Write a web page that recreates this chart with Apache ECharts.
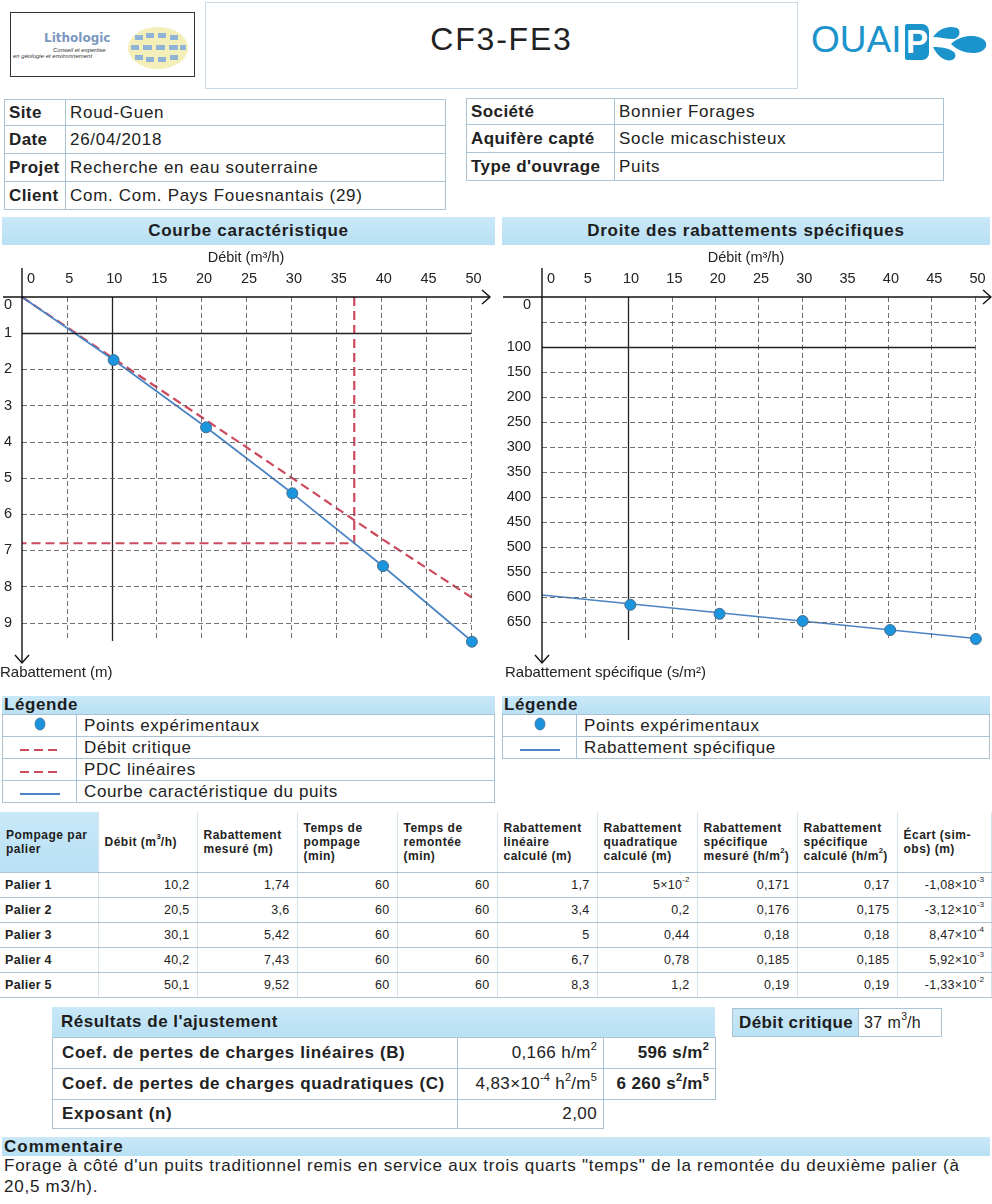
<!DOCTYPE html>
<html><head><meta charset="utf-8">
<script src="https://cdn.jsdelivr.net/npm/echarts@6/dist/echarts.min.js"></script>
<style>
html,body{margin:0;padding:0}
body{width:992px;height:1204px;position:relative;background:#fff;font-family:"Liberation Sans",Arial,sans-serif;color:#222;overflow:hidden}
.abs{position:absolute}
table{border-collapse:collapse;table-layout:fixed}
td{padding:0;overflow:hidden;white-space:nowrap}
.bar{background:linear-gradient(#c9e8f8,#b9e0f4);font-weight:bold;color:#1d1d1d}
.info td{border:1px solid #a9c3d5;font-size:17px;letter-spacing:0.7px;padding-left:4px}
.info td.k{font-weight:bold;letter-spacing:0.4px}
.leg td{border:1px solid #a9c3d5;font-size:17px;letter-spacing:0.6px;height:21px}
.leg td.s{text-align:center}
.leg td.t{padding-left:7px}
.data td{border-bottom:1px solid #a9c3d5;border-right:1px solid #d5e3ec;font-size:12.5px;letter-spacing:0.3px;height:24px;text-align:right;padding-right:7px}
.data tr.h td{font-weight:bold;font-size:12px;letter-spacing:0.5px;text-align:left;padding-left:6px;padding-right:0;line-height:14px;height:60px;vertical-align:middle}
.data td.p{font-weight:bold;text-align:left;padding-left:5px}
.res td{border:1px solid #a9c3d5;font-size:17px;letter-spacing:0.4px}
.res td.k{font-weight:bold;padding-left:9px;letter-spacing:0.6px}
.res td.v{text-align:right;padding-right:6px}
.res td.b{text-align:right;padding-right:6px;font-weight:bold}
sup{font-size:65%;vertical-align:top;position:relative;top:-2px;line-height:1;letter-spacing:0}
</style></head>
<body>

<!-- header -->
<div class="abs" style="left:10px;top:12px;width:183px;height:63px;border:1.5px solid #333">
  <div class="abs" style="left:33px;top:18px;font:bold 12px 'DejaVu Sans',sans-serif;color:#7b98bf">Lithologic</div>
  <div class="abs" style="left:42px;top:34px;font:italic 6px 'Liberation Sans';color:#333">Conseil et expertise</div>
  <div class="abs" style="left:2px;top:40px;font:italic 6px 'Liberation Sans';color:#333">en géologie et environnement</div>
  <svg class="abs" style="left:116px;top:13px" width="62" height="44" viewBox="0 0 62 44">
    <ellipse cx="31" cy="22" rx="30" ry="21" fill="#f4eeb8"/>
    <g fill="#8fb4d8">
      <rect x="8" y="9" width="8" height="5"/><rect x="19" y="7" width="8" height="5"/><rect x="31" y="7" width="8" height="5"/><rect x="43" y="9" width="8" height="5"/>
      <rect x="4" y="19" width="8" height="5"/><rect x="16" y="19" width="9" height="5"/><rect x="29" y="19" width="9" height="5"/><rect x="42" y="19" width="9" height="5"/><rect x="53" y="19" width="6" height="5"/>
      <rect x="8" y="29" width="8" height="5"/><rect x="19" y="31" width="8" height="5"/><rect x="31" y="31" width="8" height="5"/><rect x="43" y="29" width="8" height="5"/>
    </g>
  </svg>
</div>
<div class="abs" style="left:205px;top:2px;width:591px;height:85px;border:1px solid #c9dae6"></div>
<div class="abs" style="left:205px;top:21px;width:593px;text-align:center;font-size:32px;letter-spacing:1.8px;color:#222">CF3-FE3</div>
<div class="abs" style="left:811px;top:19px;font-size:37px;color:#1b94cc">OUAI</div>
<div class="abs" style="left:905px;top:24px;width:24px;height:36px;background:#1b94cc;border-radius:2px 7px 7px 2px;color:#fff;font:bold 33px 'Liberation Sans';line-height:36px;text-align:center">P</div>
<svg class="abs" style="left:929px;top:20px" width="60" height="44" viewBox="0 0 60 44">
  <g fill="#1b94cc">
    <path d="M4 17 C10 8 20 5 28 8 C33 11 30 19 24 19 C17 19 10 17 4 17 Z"/>
    <path d="M22 24 C32 14 50 14 56 21 C60 27 54 33 44 33 C36 33 28 30 22 24 Z"/>
    <path d="M4 27 C12 27 20 28 25 32 C29 37 24 42 17 40 C11 38 7 33 4 27 Z"/>
  </g>
</svg>

<!-- information tables -->
<table class="info abs" style="left:4px;top:99px;width:442px">
  <colgroup><col style="width:61px"><col></colgroup>
  <tr style="height:26px"><td class="k">Site</td><td>Roud-Guen</td></tr>
  <tr style="height:28px"><td class="k">Date</td><td>26/04/2018</td></tr>
  <tr style="height:28px"><td class="k">Projet</td><td>Recherche en eau souterraine</td></tr>
  <tr style="height:28px"><td class="k">Client</td><td>Com. Com. Pays Fouesnantais (29)</td></tr>
</table>
<table class="info abs" style="left:466px;top:98px;width:478px">
  <colgroup><col style="width:148px"><col></colgroup>
  <tr style="height:26px"><td class="k">Société</td><td>Bonnier Forages</td></tr>
  <tr style="height:28px"><td class="k">Aquifère capté</td><td>Socle micaschisteux</td></tr>
  <tr style="height:28px"><td class="k">Type d'ouvrage</td><td>Puits</td></tr>
</table>

<!-- chart section bars -->
<div class="abs bar" style="left:2px;top:217px;width:493px;height:28px;line-height:28px;text-align:center;font-size:17px;letter-spacing:0.7px">Courbe caractéristique</div>
<div class="abs bar" style="left:502px;top:217px;width:488px;height:28px;line-height:28px;text-align:center;font-size:17px;letter-spacing:0.7px">Droite des rabattements spécifiques</div>

<div id="c1" class="abs" style="left:0;top:247px;width:495px;height:443px"></div>
<div id="c2" class="abs" style="left:495px;top:247px;width:497px;height:443px"></div>

<!-- legends -->
<div class="abs bar" style="left:2px;top:696px;width:491px;height:18px;line-height:18px;font-size:17px;letter-spacing:0.6px;padding-left:2px">Légende</div>
<table class="leg abs" style="left:2px;top:714px;width:493px">
  <colgroup><col style="width:74px"><col></colgroup>
  <tr><td class="s"><svg width="12" height="14"><ellipse cx="6" cy="7" rx="5" ry="6" fill="#1a92dc" stroke="#3f6f98" stroke-width="0.8"/></svg></td><td class="t">Points expérimentaux</td></tr>
  <tr><td class="s"><svg width="42" height="6"><line x1="1" y1="3" x2="41" y2="3" stroke="#cc4a5e" stroke-width="2" stroke-dasharray="9,5"/></svg></td><td class="t">Débit critique</td></tr>
  <tr><td class="s"><svg width="42" height="6"><line x1="1" y1="3" x2="41" y2="3" stroke="#cc4a5e" stroke-width="2" stroke-dasharray="9,5"/></svg></td><td class="t">PDC linéaires</td></tr>
  <tr><td class="s"><svg width="42" height="6"><line x1="1" y1="3" x2="41" y2="3" stroke="#4a84c4" stroke-width="2"/></svg></td><td class="t">Courbe caractéristique du puits</td></tr>
</table>
<div class="abs bar" style="left:502px;top:696px;width:486px;height:18px;line-height:18px;font-size:17px;letter-spacing:0.6px;padding-left:2px">Légende</div>
<table class="leg abs" style="left:502px;top:714px;width:488px">
  <colgroup><col style="width:74px"><col></colgroup>
  <tr><td class="s"><svg width="12" height="14"><ellipse cx="6" cy="7" rx="5" ry="6" fill="#1a92dc" stroke="#3f6f98" stroke-width="0.8"/></svg></td><td class="t">Points expérimentaux</td></tr>
  <tr><td class="s"><svg width="42" height="6"><line x1="1" y1="3" x2="41" y2="3" stroke="#4a84c4" stroke-width="2"/></svg></td><td class="t">Rabattement spécifique</td></tr>
</table>

<!-- step test table -->
<table id="tab" class="data abs" style="left:0;top:812px;width:992px">
  <colgroup><col style="width:98px"><col style="width:99px"><col style="width:100px"><col style="width:100px"><col style="width:100px"><col style="width:100px"><col style="width:100px"><col style="width:100px"><col style="width:100px"><col></colgroup>
</table>

<!-- fit results -->
<div class="abs bar" style="left:52px;top:1007px;width:654px;height:30px;line-height:30px;font-size:17px;letter-spacing:0.5px;padding-left:9px">Résultats de l'ajustement</div>
<table class="res abs" style="left:52px;top:1037px;width:663px">
  <colgroup><col style="width:405px"><col style="width:146px"><col style="width:112px"></colgroup>
  <tr style="height:31px"><td class="k">Coef. de pertes de charges linéaires (B)</td><td class="v" id="rB"></td><td class="b" id="rBs"></td></tr>
  <tr style="height:31px"><td class="k">Coef. de pertes de charges quadratiques (C)</td><td class="v" id="rC"></td><td class="b" id="rCs"></td></tr>
  <tr style="height:29px"><td class="k">Exposant (n)</td><td class="v" id="rN"></td><td style="border:none"></td></tr>
</table>
<table class="res abs" style="left:732px;top:1008px;width:210px">
  <colgroup><col style="width:126px"><col></colgroup>
  <tr style="height:28px"><td class="k bar" style="padding-left:6px;letter-spacing:0.4px">Débit critique</td><td style="padding-left:5px;font-size:16px" id="rQc"></td></tr>
</table>

<!-- comment -->
<div class="abs bar" style="left:2px;top:1137px;width:986px;height:19px;line-height:19px;font-size:17px;letter-spacing:1px;padding-left:2px">Commentaire</div>
<div class="abs" style="left:4px;top:1155px;width:988px;font-size:17px;letter-spacing:0.75px;line-height:21px;color:#222;white-space:nowrap">Forage à côté d'un puits traditionnel remis en service aux trois quarts "temps" de la remontée du deuxième palier (à<br>20,5 m3/h).</div>

<script>
// ---- step test data ----
const paliers = ['Palier 1', 'Palier 2', 'Palier 3', 'Palier 4', 'Palier 5'];
const debit = [10.2, 20.5, 30.1, 40.2, 50.1];                 // m3/h
const rabMesure = [1.74, 3.6, 5.42, 7.43, 9.52];              // m
const tempsPompage = [60, 60, 60, 60, 60];                    // min
const tempsRemontee = [60, 60, 60, 60, 60];                   // min
const rabLineaire = [1.7, 3.4, 5, 6.7, 8.3];                  // m
const rabQuadratique = [0.05, 0.2, 0.44, 0.78, 1.2];          // m
const specMesure = [0.171, 0.176, 0.18, 0.185, 0.19];         // h/m2
const specCalcule = [0.17, 0.175, 0.18, 0.185, 0.19];         // h/m2
const ecart = [-1.08e-3, -3.12e-3, 8.47e-4, 5.92e-3, -1.33e-2]; // m

// characteristic curve of the well (s = BQ + CQ^2)
const courbeQ = [0, 10.2, 20.5, 30.1, 40.2, 50.1];
const courbeS = [0, 1.739, 3.597, 5.421, 7.436, 9.507];
// linear head losses line
const pdcQ = [0, 10.2, 20.5, 30.1, 40.2, 50.1];
const pdcS = [0, 1.7, 3.4, 5, 6.7, 8.3];
// critical flow
const debitCritique = 37;      // m3/h
const rabCritique = 6.8;       // m
// specific drawdown line (s/m2)
const droiteQ = [0, 50.1];
const droiteS = [596, 683];

// fit results
const coefB = 0.166, coefBs = 596;
const coefC = 4.83e-4, coefCs = 6260;
const exposant = 2.00;

// axis ticks
const xTicks = [0, 5, 10, 15, 20, 25, 30, 35, 40, 45, 50];
const yTicksLeft = [0, 1, 2, 3, 4, 5, 6, 7, 8, 9];
const yGridRight = [50, 100, 150, 200, 250, 300, 350, 400, 450, 500, 550, 600, 650];
const yLabelsRight = [0, 100, 150, 200, 250, 300, 350, 400, 450, 500, 550, 600, 650];

// ---- number formatting (French style) ----
function fr(v) { return String(v).replace('.', ','); }
function sci(v) {
  const e = Math.floor(Math.log10(Math.abs(v)));
  const m = +(v / Math.pow(10, e)).toFixed(2);
  return fr(m) + '×10<sup>' + e + '</sup>';
}
function num(v) { return Math.abs(v) < 0.1 ? sci(v) : fr(v); }

// ---- table ----
const tab = document.getElementById('tab');
const heads = ['Pompage par<br>palier', 'Débit (m<sup>3</sup>/h)', 'Rabattement<br>mesuré (m)', 'Temps de<br>pompage<br>(min)',
  'Temps de<br>remontée<br>(min)', 'Rabattement<br>linéaire<br>calculé (m)', 'Rabattement<br>quadratique<br>calculé (m)',
  'Rabattement<br>spécifique<br>mesuré (h/m<sup>2</sup>)', 'Rabattement<br>spécifique<br>calculé (h/m<sup>2</sup>)', 'Écart (sim-<br>obs) (m)'];
let html = '<tr class="h">' + heads.map((h, i) =>
  '<td' + (i === 0 ? ' class="bar"' : '') + '>' + h + '</td>').join('') + '</tr>';
paliers.forEach((p, i) => {
  html += '<tr><td class="p">' + p + '</td><td>' + fr(debit[i]) + '</td><td>' + fr(rabMesure[i]) + '</td><td>' +
    tempsPompage[i] + '</td><td>' + tempsRemontee[i] + '</td><td>' + fr(rabLineaire[i]) + '</td><td>' +
    num(rabQuadratique[i]) + '</td><td>' + fr(specMesure[i]) + '</td><td>' + fr(specCalcule[i]) + '</td><td>' +
    sci(ecart[i]) + '</td></tr>';
});
tab.insertAdjacentHTML('beforeend', html);

document.getElementById('rB').innerHTML = fr(coefB) + ' h/m<sup>2</sup>';
document.getElementById('rBs').innerHTML = coefBs + ' s/m<sup>2</sup>';
document.getElementById('rC').innerHTML = sci(coefC) + ' h<sup>2</sup>/m<sup>5</sup>';
document.getElementById('rCs').innerHTML = String(coefCs).replace(/\B(?=(\d{3})+(?!\d))/g, ' ') + ' s<sup>2</sup>/m<sup>5</sup>';
document.getElementById('rN').innerHTML = fr(exposant.toFixed(2));
document.getElementById('rQc').innerHTML = debitCritique + ' m<sup>3</sup>/h';

// ---- charts ----
const F = 'Liberation Sans';
const BLUE = '#4a84c4', RED = '#cc4a5e', DOT = '#1a95de';
const zip = (a, b) => a.map((v, i) => [v, b[i]]);

function gridSeries(xs, ys, xMax, yMax, solidX, solidY) {
  const dashed = { color: '#5a5a5a', width: 1, type: [5, 3], opacity: 0.85 };
  const solid = { color: '#222', width: 1.3, type: 'solid' };
  const data = [];
  xs.forEach(x => data.push([{ coord: [x, 0], lineStyle: x === solidX ? solid : dashed }, { coord: [x, yMax] }]));
  ys.forEach(y => data.push([{ coord: [0, y], lineStyle: y === solidY ? solid : dashed }, { coord: [xMax, y] }]));
  return {
    type: 'line', data: [], z: 1, silent: true,
    markLine: { silent: true, symbol: ['none', 'none'], label: { show: false }, animation: false, emphasis: { disabled: true }, data: data }
  };
}

function axisCommon() {
  return { axisLine: { show: false }, axisTick: { show: false }, splitLine: { show: false } };
}

// axis lines with open arrow heads, overhanging the plot area
function addAxes(chart, x0, x1, y0, y1, titleX, ylabel, ylabelX) {
  const o = chart.convertToPixel({ gridIndex: 0 }, [0, 0]);
  const st = { stroke: '#111', lineWidth: 1.4, fill: null };
  chart.setOption({
    graphic: [
      { type: 'polyline', shape: { points: [[x0, o[1]], [x1, o[1]]] }, style: st, z: 10 },
      { type: 'polyline', shape: { points: [[x1 - 8, o[1] - 7], [x1, o[1]], [x1 - 8, o[1] + 7]] }, style: st, z: 10 },
      { type: 'polyline', shape: { points: [[o[0], y0], [o[0], y1]] }, style: st, z: 10 },
      { type: 'polyline', shape: { points: [[o[0] - 7, y1 - 8], [o[0], y1], [o[0] + 7, y1 - 8]] }, style: st, z: 10 },
      { type: 'text', x: titleX, y: 11, style: { text: 'Débit (m³/h)', font: '14.5px ' + F, fill: '#222', textAlign: 'center', textVerticalAlign: 'middle' } },
      { type: 'text', x: ylabelX, y: 426, style: { text: ylabel, font: '15px ' + F, fill: '#222', textAlign: 'left', textVerticalAlign: 'middle' } }
    ]
  });
}

const tickLabel = { fontFamily: F, fontSize: 14.5, color: '#222' };
const pointStyle = { color: DOT, borderColor: '#4b6e8c', borderWidth: 1, opacity: 1 };

// characteristic curve
const c1 = echarts.init(document.getElementById('c1'));
c1.setOption({
  animation: false,
  grid: { left: 22, top: 50, width: 449, height: 344, containLabel: false, outerBoundsMode: 'none' },
  xAxis: Object.assign(axisCommon(), {
    type: 'value', position: 'top', min: 0, max: 50, interval: 5,
    axisLabel: Object.assign({ margin: 11, alignMinLabel: 'left', padding: [0, 0, 0, 5],
      formatter: v => xTicks.includes(v) ? String(v) : '' }, tickLabel)
  }),
  yAxis: Object.assign(axisCommon(), {
    type: 'value', inverse: true, min: 0, max: 9.5, interval: 1,
    axisLabel: Object.assign({ margin: 18, align: 'left', verticalAlignMinLabel: 'top',
      formatter: v => yTicksLeft.includes(v) ? String(v) : '' }, tickLabel)
  }),
  series: [
    gridSeries(xTicks.slice(1), yTicksLeft.slice(1), 50, 9.5, 10, 1),
    { type: 'line', data: zip(pdcQ, pdcS), symbol: 'none', z: 3, lineStyle: { color: RED, width: 2.2, type: [9, 5] } },
    { type: 'line', data: [[debitCritique, 0], [debitCritique, rabCritique], [0, rabCritique]], symbol: 'none', z: 3,
      lineStyle: { color: RED, width: 2.2, type: [9, 5] } },
    { type: 'line', data: zip(courbeQ, courbeS), symbol: 'none', z: 4, lineStyle: { color: BLUE, width: 1.7 } },
    { type: 'scatter', data: zip(debit, rabMesure), symbolSize: 11, z: 5, clip: false, itemStyle: pointStyle }
  ]
});
addAxes(c1, 3, 490, 21, 416, 246, 'Rabattement (m)', 0);

// specific drawdown line
const c2 = echarts.init(document.getElementById('c2'));
c2.setOption({
  animation: false,
  grid: { left: 47, top: 50, width: 433, height: 343, containLabel: false, outerBoundsMode: 'none' },
  xAxis: Object.assign(axisCommon(), {
    type: 'value', position: 'top', min: 0, max: 50, interval: 5,
    axisLabel: Object.assign({ margin: 11, alignMinLabel: 'left', padding: [0, 0, 0, 5],
      formatter: v => xTicks.includes(v) ? String(v) : '' }, tickLabel)
  }),
  yAxis: Object.assign(axisCommon(), {
    type: 'value', inverse: true, min: 0, max: 686, interval: 50,
    axisLabel: Object.assign({ margin: 11, verticalAlignMinLabel: 'top',
      formatter: v => yLabelsRight.includes(v) ? String(v) : '' }, tickLabel)
  }),
  series: [
    gridSeries(xTicks.slice(1), yGridRight, 50, 686, 10, 100),
    { type: 'line', data: zip(droiteQ, droiteS), symbol: 'none', z: 4, lineStyle: { color: BLUE, width: 1.7 } },
    { type: 'scatter', data: debit.map((q, i) => [q, specMesure[i] * 3600]), symbolSize: 11, z: 5, clip: false, itemStyle: pointStyle }
  ]
});
addAxes(c2, 8, 496, 21, 416, 251, 'Rabattement spécifique (s/m²)', 10);
</script>
</body></html>
